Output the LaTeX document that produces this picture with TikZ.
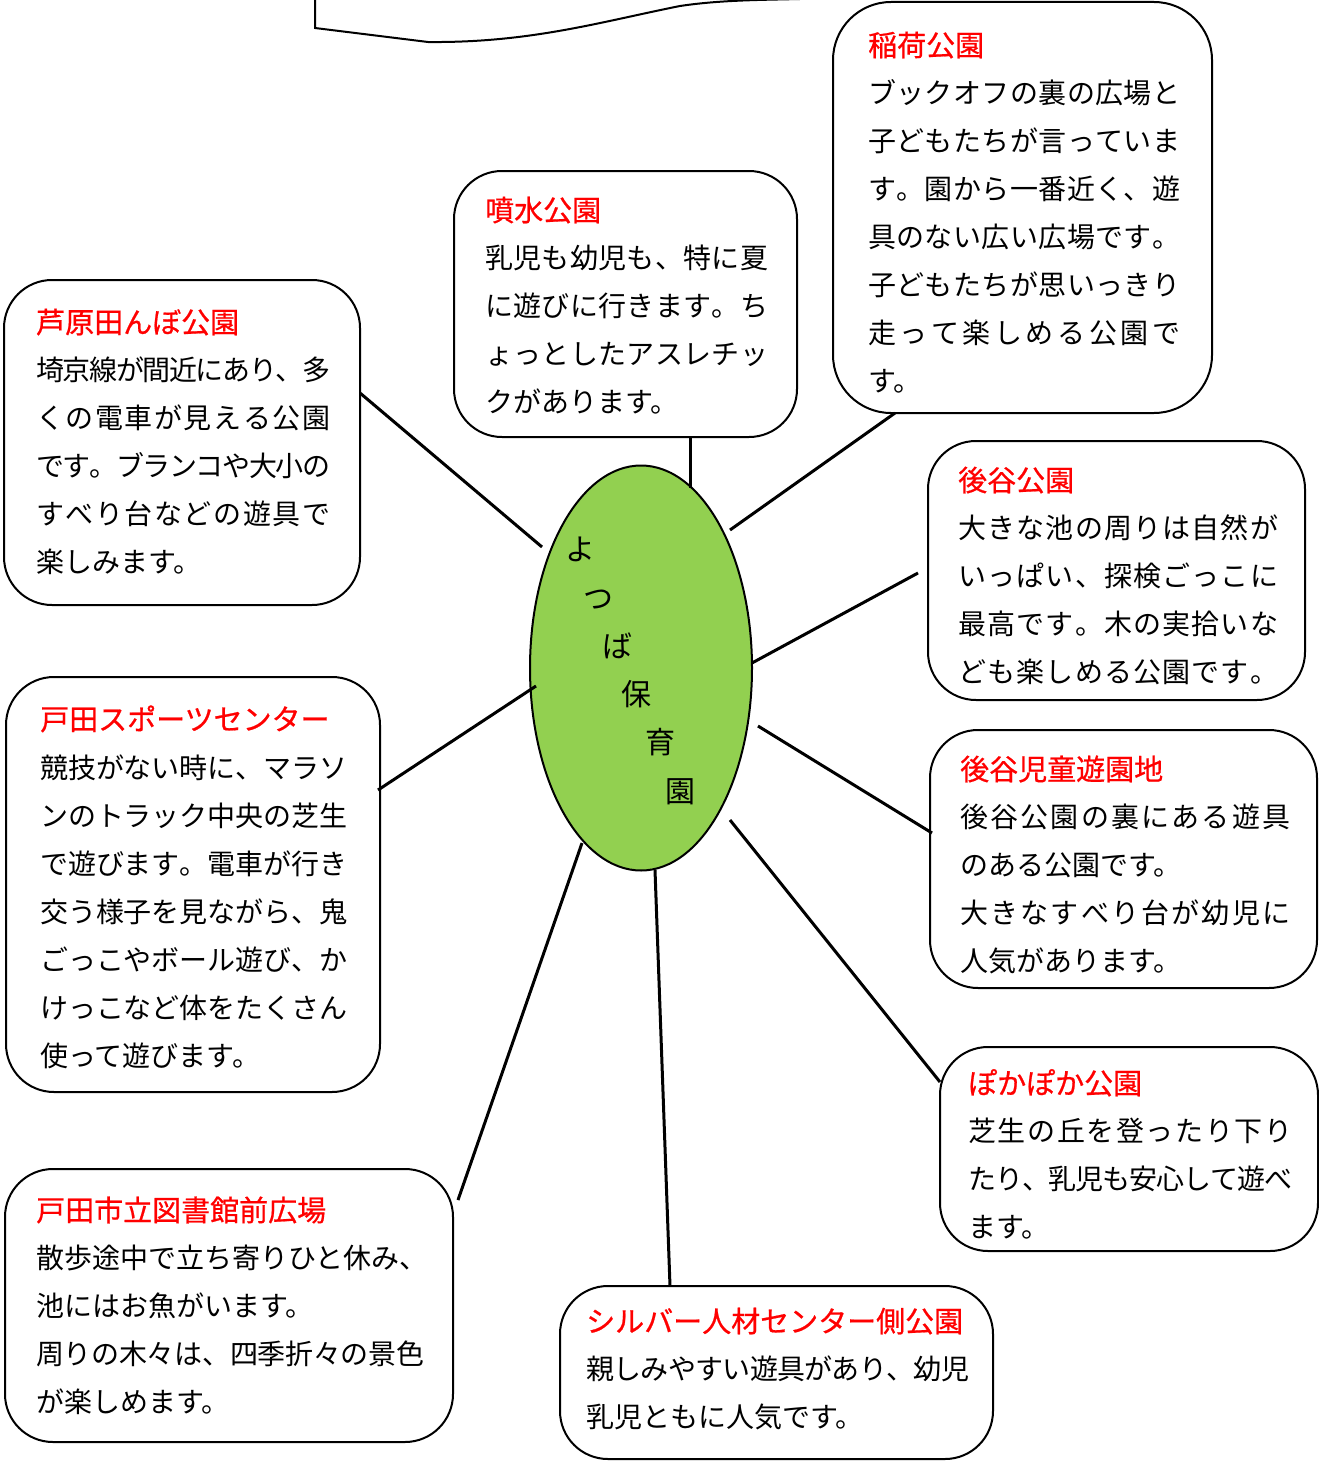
\documentclass[tikz,border=0pt]{standalone}
\usepackage{fontspec}
\setmainfont{Noto Sans CJK JP}
\newfontfamily\jpt[FakeBold=0.7]{Noto Sans CJK JP}
\usetikzlibrary{shapes.geometric}
\definecolor{ellgreen}{HTML}{92D050}
\def\jlstart#1{#1\jlnext}
\def\jlnext#1{\ifx\relax#1\else\hskip 0pt plus 1fil minus 4pt#1\expandafter\jlnext\fi}
\newcommand\jline[2]{\hbox to #1{\jlstart#2\relax}}
\begin{document}
\begin{tikzpicture}[x=1pt,y=-1pt,
  pbox/.style={draw, line width=2pt, rounded corners=48pt, inner sep=0pt, fill=white},
  ttl/.style={anchor=west, inner sep=0pt, text=red, font=\jpt\fontsize{29}{29}\selectfont, text height=25.5pt, text depth=3.5pt},
  bd/.style={anchor=west, inner sep=0pt, font=\fontsize{28}{28}\selectfont, text height=24.6pt, text depth=3.4pt},
  el/.style={inner sep=0pt, font=\fontsize{30}{30}\selectfont, text height=26.4pt, text depth=3.6pt},
  conn/.style={line width=3pt}]
\useasboundingbox (0,0) rectangle (1319,1461);

% partial shape at the top
\draw[line width=2pt] (315,-3) -- (315,28) -- (428,42)
  .. controls (530,43) and (600,22) .. (680,6)
  .. controls (720,0) and (760,0) .. (800,-1);

% boxes
\node[pbox, minimum width=356pt, minimum height=325pt] (b1) at (182,442.5) {};
\node[pbox, minimum width=343pt, minimum height=266pt] (b2) at (625.5,304) {};
\node[pbox, minimum width=379pt, minimum height=411pt, rounded corners=58pt] (b3) at (1022.5,207.5) {};
\node[pbox, minimum width=377pt, minimum height=259pt] (b4) at (1116.5,570.5) {};
\node[pbox, minimum width=387pt, minimum height=258pt] (b5) at (1123.5,859) {};
\node[pbox, minimum width=378pt, minimum height=204pt] (b6) at (1129,1149) {};
\node[pbox, minimum width=433pt, minimum height=173pt] (b7) at (776.5,1372.5) {};
\node[pbox, minimum width=448pt, minimum height=273pt] (b8) at (229,1305.5) {};
\node[pbox, minimum width=374pt, minimum height=415pt] (b9) at (193,884.5) {};

% ellipse
\node[draw, line width=2pt, fill=ellgreen, ellipse, inner sep=0pt,
      minimum width=222pt, minimum height=405pt] (e) at (641,668) {};
\node[el] (e1) at (580,549) {よ};
\node[el] (e2) at (598,598) {つ};
\node[el] (e3) at (617,646) {ば};
\node[el] (e4) at (636,694) {保};
\node[el] (e5) at (660,742) {育};
\node[el] (e6) at (680,791) {園};

% connector end points
\coordinate (p1a) at (360,393);  \coordinate (p1b) at (542,547);
\coordinate (p2a) at (690,437);  \coordinate (p2b) at (690,488);
\coordinate (p3a) at (895,413);  \coordinate (p3b) at (730,530);
\coordinate (p4a) at (918,573);  \coordinate (p4b) at (752,663);
\coordinate (p5a) at (932,833);  \coordinate (p5b) at (758,726);
\coordinate (p6a) at (940,1082); \coordinate (p6b) at (730,820);
\coordinate (p7a) at (670,1286); \coordinate (p7b) at (655,870);
\coordinate (p8a) at (458,1200); \coordinate (p8b) at (582,843);
\coordinate (p9a) at (378,790);  \coordinate (p9b) at (536,686);
\foreach \i in {1,...,9} {\draw[conn] (p\i a) -- (p\i b);}

% b1
\node[ttl] (t1) at (36,322) {芦原田んぼ公園};
\node[bd] (l11) at (36,370) {\jline{294pt}{埼京線が間近にあり、多}};
\node[bd] (l12) at (36,418) {\jline{294pt}{くの電車が見える公園}};
\node[bd] (l13) at (36,466) {\jline{294pt}{です。ブランコや大小の}};
\node[bd] (l14) at (36,514) {\jline{294pt}{すべり台などの遊具で}};
\node[bd] (l15) at (36,562) {楽しみます。};

% b2
\node[ttl] (t2) at (485,210) {噴水公園};
\node[bd] (l21) at (485,258) {\jline{283pt}{乳児も幼児も、特に夏}};
\node[bd] (l22) at (485,306) {\jline{283pt}{に遊びに行きます。ち}};
\node[bd] (l23) at (485,354) {\jline{283pt}{ょっとしたアスレチッ}};
\node[bd] (l24) at (485,402) {クがあります。};

% b3
\node[ttl] (t3) at (868,45) {稲荷公園};
\node[bd] (l31) at (868,93) {\jline{312pt}{ブックオフの裏の広場と}};
\node[bd] (l32) at (868,141) {\jline{312pt}{子どもたちが言っていま}};
\node[bd] (l33) at (868,189) {\jline{312pt}{す。園から一番近く、遊}};
\node[bd] (l34) at (868,237) {\jline{312pt}{具のない広い広場です。}};
\node[bd] (l35) at (868,285) {\jline{312pt}{子どもたちが思いっきり}};
\node[bd] (l36) at (868,333) {\jline{312pt}{走って楽しめる公園で}};
\node[bd] (l37) at (868,381) {す。};

% b4
\node[ttl] (t4) at (958,480) {後谷公園};
\node[bd] (l41) at (958,528) {\jline{320pt}{大きな池の周りは自然が}};
\node[bd] (l42) at (958,576) {\jline{320pt}{いっぱい、探検ごっこに}};
\node[bd] (l43) at (958,624) {\jline{320pt}{最高です。木の実拾いな}};
\node[bd] (l44) at (958,672) {\jline{320pt}{ども楽しめる公園です。}};

% b5
\node[ttl] (t5) at (960,769) {後谷児童遊園地};
\node[bd] (l51) at (960,817) {\jline{330pt}{後谷公園の裏にある遊具}};
\node[bd] (l52) at (960,865) {のある公園です。};
\node[bd] (l53) at (960,913) {\jline{330pt}{大きなすべり台が幼児に}};
\node[bd] (l54) at (960,961) {人気があります。};

% b6
\node[ttl] (t6) at (968,1083) {ぽかぽか公園};
\node[bd] (l61) at (968,1131) {\jline{324pt}{芝生の丘を登ったり下り}};
\node[bd] (l62) at (968,1179) {\jline{324pt}{たり、乳児も安心して遊べ}};
\node[bd] (l63) at (968,1227) {ます。};

% b7
\node[ttl] (t7) at (586,1321) {シルバー人材センター側公園};
\node[bd] (l71) at (586,1369) {\jline{383pt}{親しみやすい遊具があり、幼児}};
\node[bd] (l72) at (586,1417) {乳児ともに人気です。};

% b8
\node[ttl] (t8) at (36,1210) {戸田市立図書館前広場};
\node[bd] (l81) at (36,1258) {散歩途中で立ち寄りひと休み、};
\node[bd] (l82) at (36,1306) {池にはお魚がいます。};
\node[bd] (l83) at (36,1354) {\jline{388pt}{周りの木々は、四季折々の景色}};
\node[bd] (l84) at (36,1402) {が楽しめます。};

% b9
\node[ttl] (t9) at (40,719) {戸田スポーツセンター};
\node[bd] (l91) at (40,768) {\jline{307pt}{競技がない時に、マラソ}};
\node[bd] (l92) at (40,816) {\jline{307pt}{ンのトラック中央の芝生}};
\node[bd] (l93) at (40,864) {\jline{307pt}{で遊びます。電車が行き}};
\node[bd] (l94) at (40,912) {\jline{307pt}{交う様子を見ながら、鬼}};
\node[bd] (l95) at (40,960) {\jline{307pt}{ごっこやボール遊び、か}};
\node[bd] (l96) at (40,1008) {\jline{307pt}{けっこなど体をたくさん}};
\node[bd] (l97) at (40,1056) {使って遊びます。};
\end{tikzpicture}
\end{document}
